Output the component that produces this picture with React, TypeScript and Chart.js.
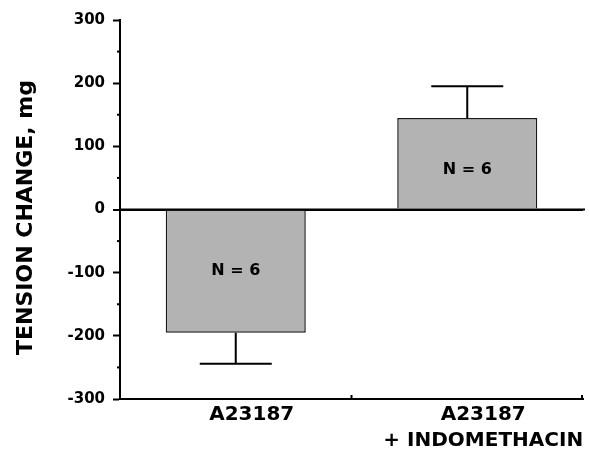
import React, { useEffect, useRef } from 'react';
import { Chart, registerables } from 'chart.js';

Chart.register(...registerables);

const categories = ['A23187', 'A23187 + INDOMETHACIN'];
const categoryLines = [['A23187'], ['A23187', '+ INDOMETHACIN']];
const tensionValues = [-195, 145];
const errorValues = [49, 50];
const nLabels = ['N = 6', 'N = 6'];
const yMin = -300;
const yMax = 300;
const yMajorStep = 100;
const yMinorStep = 50;
const yTitle = 'TENSION CHANGE, mg';

const FONT = '"DejaVu Sans", Arial, sans-serif';

const overlay = {
  id: 'overlay',
  afterDatasetsDraw(chart: any) {
    const { ctx, chartArea, scales } = chart;
    const xs = scales.x;
    const ys = scales.y;
    const meta = chart.getDatasetMeta(0);
    ctx.save();
    ctx.strokeStyle = '#000';
    ctx.fillStyle = '#000';
    ctx.lineWidth = 2;
    // re-draw zero line over bar edges
    const y0line = ys.getPixelForValue(0);
    ctx.beginPath();
    ctx.moveTo(chartArea.left, y0line);
    ctx.lineTo(chartArea.right + 2, y0line);
    ctx.stroke();
    // error bars
    meta.data.forEach((bar: any, i: number) => {
      const v = tensionValues[i];
      const e = errorValues[i];
      const sign = v >= 0 ? 1 : -1;
      const y0 = ys.getPixelForValue(v);
      const y1 = ys.getPixelForValue(v + sign * e);
      ctx.beginPath();
      ctx.moveTo(bar.x, y0);
      ctx.lineTo(bar.x, y1);
      ctx.moveTo(bar.x - 36, y1);
      ctx.lineTo(bar.x + 36, y1);
      ctx.stroke();
      // N label
      ctx.font = 'bold 16px ' + FONT;
      ctx.textAlign = 'center';
      ctx.textBaseline = 'middle';
      const ym = ys.getPixelForValue(v / 2);
      ctx.fillText(nLabels[i], bar.x, ym + (v > 0 ? 6 : 0));
    });
    // minor y ticks
    for (let v = yMin + yMinorStep; v < yMax; v += yMajorStep) {
      const y = ys.getPixelForValue(v);
      ctx.beginPath();
      ctx.moveTo(chartArea.left - 3, y);
      ctx.lineTo(chartArea.left, y);
      ctx.stroke();
    }
    // x axis small upward ticks at category boundaries
    for (let i = 1; i <= categories.length; i++) {
      const xb = (xs.getPixelForValue(i - 1) + xs.getPixelForValue(i)) / 2;
      const xx = i === categories.length ? chartArea.right - 1 : xb;
      ctx.beginPath();
      ctx.moveTo(xx, chartArea.bottom);
      ctx.lineTo(xx, chartArea.bottom - 4);
      ctx.stroke();
    }
    // category labels
    ctx.font = 'bold 20px ' + FONT;
    ctx.textAlign = 'center';
    ctx.textBaseline = 'middle';
    categoryLines.forEach((lines, i) => {
      const x = xs.getPixelForValue(i) + 16;
      lines.forEach((ln, j) => {
        ctx.fillText(ln, x, chartArea.bottom + 16 + j * 25.5);
      });
    });
    // y title
    ctx.font = 'bold 22px ' + FONT;
    ctx.translate(26, (chartArea.top + chartArea.bottom) / 2 + 8);
    ctx.rotate(-Math.PI / 2);
    ctx.fillText(yTitle, 0, 0);
    ctx.restore();
  },
};

export default function App() {
  const ref = useRef<HTMLCanvasElement | null>(null);
  useEffect(() => {
    if (!ref.current) return;
    const chart = new Chart(ref.current, {
      type: 'bar',
      data: {
        labels: categories,
        datasets: [
          {
            data: tensionValues,
            backgroundColor: '#b3b3b3',
            borderColor: '#1a1a1a',
            borderWidth: 1.5,
            borderSkipped: 'start',
            barPercentage: 0.605,
            categoryPercentage: 1,
          },
        ],
      },
      options: {
        animation: false,
        responsive: true,
        maintainAspectRatio: false,
        layout: { padding: { top: 20, right: 7, left: 0, bottom: 0 } },
        plugins: { legend: { display: false }, tooltip: { enabled: false }, title: { display: false } },
        scales: {
          x: {
            type: 'category',
            grid: { display: true, drawOnChartArea: false, drawTicks: false },
            border: { display: true, color: '#000', width: 2 },
            ticks: { display: false },
            afterFit: (s: any) => {
              s.height = 55;
            },
          },
          y: {
            type: 'linear',
            min: yMin,
            max: yMax,
            ticks: {
              stepSize: yMinorStep,
              autoSkip: false,
              color: '#000',
              padding: 8,
              font: { family: FONT, weight: 'bold', size: 15 },
              callback: (v: any) => (Number(v) % yMajorStep === 0 ? String(v) : ''),
            },
            grid: {
              drawOnChartArea: true,
              color: (c: any) => (c.tick && c.tick.value === 0 ? '#000' : 'rgba(0,0,0,0)'),
              lineWidth: (c: any) => (c.tick && c.tick.value === 0 ? 2 : 1),
              tickColor: (c: any) => (c.tick && c.tick.value % yMajorStep === 0 ? '#000' : 'rgba(0,0,0,0)'),
              tickLength: 7,
              tickWidth: 2,
            },
            border: { display: true, color: '#000', width: 2 },
            afterFit: (s: any) => {
              s.width = 120;
            },
          },
        },
      },
      plugins: [overlay],
    } as any);
    return () => chart.destroy();
  }, []);
  return (
    <div style={{ position: 'fixed', left: 0, top: 0, width: 590, height: 454, background: '#fff' }}>
      <canvas ref={ref} />
    </div>
  );
}
